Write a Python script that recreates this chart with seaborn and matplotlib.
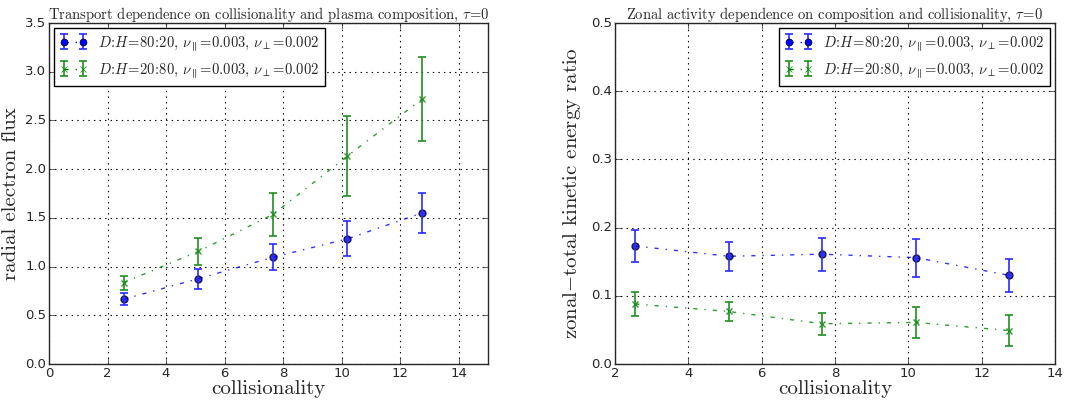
import numpy as np
import pandas as pd
import seaborn as sns
import matplotlib.pyplot as plt

# data
collisionality = [2.55, 5.10, 7.65, 10.20, 12.75]

flux_dh80 = [0.665, 0.875, 1.095, 1.285, 1.55]
flux_dh80_err = [0.06, 0.10, 0.135, 0.18, 0.21]
flux_dh20 = [0.835, 1.155, 1.535, 2.135, 2.72]
flux_dh20_err = [0.072, 0.143, 0.22, 0.41, 0.435]

zonal_dh80 = [0.173, 0.158, 0.161, 0.156, 0.130]
zonal_dh80_err = [0.023, 0.021, 0.024, 0.028, 0.024]
zonal_dh20 = [0.088, 0.077, 0.059, 0.061, 0.049]
zonal_dh20_err = [0.017, 0.014, 0.016, 0.023, 0.023]

labels = [r'$D\!:\!H\!=\!80\!:\!20$, $\nu_\parallel\!=\!0.003$, $\nu_\perp\!=\!0.002$',
          r'$D\!:\!H\!=\!20\!:\!80$, $\nu_\parallel\!=\!0.003$, $\nu_\perp\!=\!0.002$']

plt.style.use('classic')
sns.set_style('ticks', {'xtick.direction': 'in', 'ytick.direction': 'in'})
plt.rcParams['figure.facecolor'] = 'white'
plt.rcParams['savefig.facecolor'] = 'white'
plt.rcParams['mathtext.fontset'] = 'cm'
plt.rcParams['font.family'] = ['DejaVu Sans']
plt.rcParams['axes.formatter.useoffset'] = False

fig = plt.figure(figsize=(10.67, 4.05), dpi=100)
ax1 = fig.add_axes([0.0459, 0.1012, 0.4114, 0.842])
ax2 = fig.add_axes([0.5764, 0.1012, 0.4124, 0.842])


def draw(ax, y1, e1, y2, e2):
    df = pd.DataFrame({'x': collisionality * 2,
                       'y': y1 + y2,
                       'series': ['a'] * 5 + ['b'] * 5})
    handles = []
    for key, y, e, col, ecol, mk in [('a', y1, e1, 'b', '#2a2aff', 'o'),
                                     ('b', y2, e2, 'g', '#1f901f', 'x')]:
        sub = df[df['series'] == key]
        mec = 'k' if mk == 'o' else col
        sns.lineplot(data=sub, x='x', y='y', ax=ax, color=col, marker=mk,
                     markersize=5, markeredgecolor=mec,
                     markeredgewidth=1, linestyle='-.', lw=1, legend=False)
        ax.lines[-1].set_alpha(0.8)
        eb = ax.errorbar(collisionality, y, yerr=e, fmt='none', ecolor=ecol,
                         elinewidth=1.2, capsize=3, capthick=1.2)
        line, = ax.plot([], [], color=col, marker=mk, markersize=5,
                        markeredgecolor=mec, linestyle='-.', lw=1)
        handles.append((eb, line))
    return handles


h1 = draw(ax1, flux_dh80, flux_dh80_err, flux_dh20, flux_dh20_err)
h2 = draw(ax2, zonal_dh80, zonal_dh80_err, zonal_dh20, zonal_dh20_err)

ax1.set_xlim(0, 15)
ax1.set_ylim(0, 3.5)
ax1.set_xticks(np.arange(0, 15, 2))
ax1.set_yticks(np.arange(0, 3.51, 0.5))
ax2.set_xlim(2, 14)
ax2.set_ylim(0, 0.5)
ax2.set_xticks(np.arange(2, 15, 2))
ax2.set_yticks(np.arange(0, 0.51, 0.1))

ax1.set_title(r'Transport dependence on collisionality and plasma composition, $\tau\!=\!0$',
              fontfamily='cmr10', fontsize=10.5, pad=3)
ax2.set_title(r'Zonal activity dependence on composition and collisionality, $\tau\!=\!0$',
              fontfamily='cmr10', fontsize=10.5, pad=3)
ax1.set_ylabel('radial electron flux', fontfamily='cmr10', fontsize=15, labelpad=4)
ax2.set_ylabel(r'zonal$-$total kinetic energy ratio', fontfamily='cmr10', fontsize=15,
               labelpad=6)

for ax, hs, loc in [(ax1, h1, 'upper left'), (ax2, h2, 'upper right')]:
    ax.set_xlabel('collisionality', fontfamily='cmr10', fontsize=15, labelpad=0)
    ax.grid(True, linestyle=':', color='k', lw=0.8)
    ax.tick_params(labelsize=9.5, direction='in', top=True, right=True, length=4, pad=2)
    for s in ax.spines.values():
        s.set_linewidth(1)
    leg = ax.legend(hs, labels, loc=loc, numpoints=2,
                    prop={'family': 'cmr10', 'size': 10.5}, fancybox=False,
                    borderaxespad=0.35, handlelength=1.9, handletextpad=0.7,
                    borderpad=0.4, labelspacing=0.55)
    leg.get_frame().set_edgecolor('k')

fig.savefig('out.png', dpi=100)
